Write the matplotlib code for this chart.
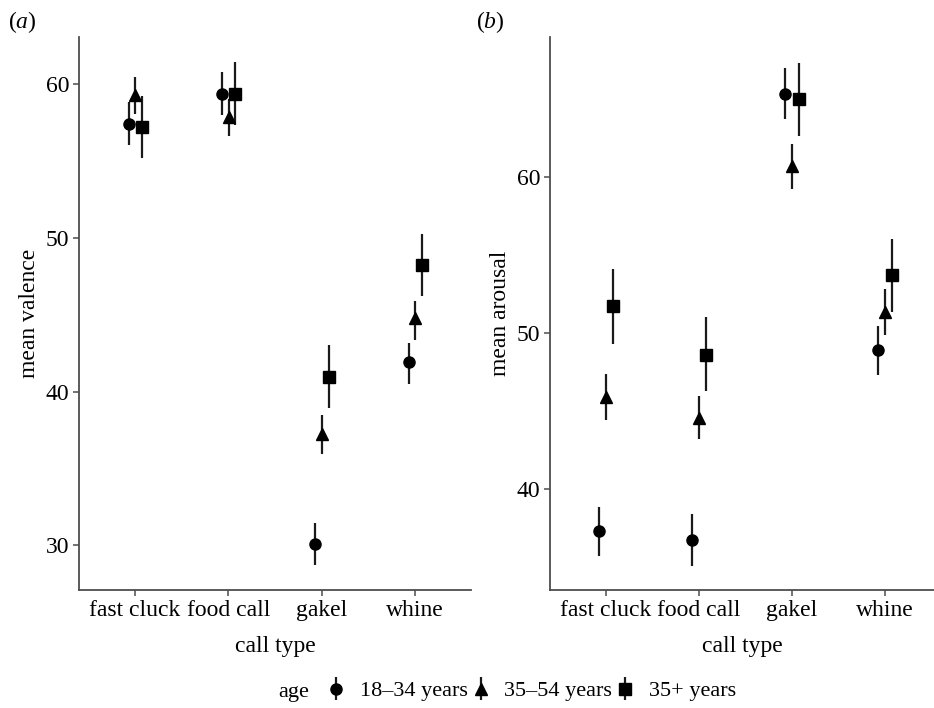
import matplotlib
matplotlib.use("Agg")
import matplotlib.pyplot as plt
import numpy as np

plt.rcParams['font.family'] = ['Liberation Serif', 'DejaVu Serif']
plt.rcParams['mathtext.fontset'] = 'custom'
plt.rcParams['mathtext.rm'] = 'Liberation Serif'
plt.rcParams['mathtext.it'] = 'Liberation Serif:italic'

calls = ["fast cluck", "food call", "gakel", "whine"]
ages = ["18\u201334 years", "35\u201354 years", "35+ years"]
markers = ["o", "^", "s"]
dodge = [-0.068, 0.004, 0.074]

# valence: mean, low, high per age group (rows) and call type (cols)
val_mean = [[57.4, 59.35, 30.1, 41.9],
            [59.3, 57.85, 37.25, 44.75],
            [57.2, 59.35, 40.95, 48.25]]
val_lo = [[56.05, 58.0, 28.75, 40.5],
          [58.05, 56.6, 35.95, 43.35],
          [55.2, 57.35, 38.9, 46.2]]
val_hi = [[58.8, 60.75, 31.45, 43.15],
          [60.45, 59.05, 38.45, 45.9],
          [59.2, 61.4, 43.0, 50.25]]

# arousal
aro_mean = [[37.3, 36.75, 65.3, 48.9],
            [45.9, 44.55, 60.7, 51.35],
            [51.7, 48.6, 64.95, 53.7]]
aro_lo = [[35.7, 35.1, 63.7, 47.3],
          [44.45, 43.2, 59.2, 49.85],
          [49.3, 46.3, 62.6, 51.35]]
aro_hi = [[38.85, 38.4, 66.95, 50.45],
          [47.35, 45.95, 62.1, 52.8],
          [54.1, 51.05, 67.3, 56.05]]

W, H = 934, 708
fig = plt.figure(figsize=(W / 100, H / 100), dpi=100)
ax1 = fig.add_axes([79 / W, 118 / H, (471 - 79) / W, (590 - 37) / H])
ax2 = fig.add_axes([550 / W, 118 / H, (934 - 550) / W, (590 - 37) / H])

grey = "#4d4d4d"
fs = 17


def panel(ax, means, lo, hi, ylim, yticks, ylabel):
    x = np.arange(1, len(calls) + 1)
    handles = []
    for i in range(len(ages)):
        m = np.array(means[i])
        err = [m - np.array(lo[i]), np.array(hi[i]) - m]
        h = ax.errorbar(x + dodge[i], m, yerr=err, fmt=markers[i], color="black",
                        ecolor="#1a1a1a", elinewidth=1.6, capsize=0,
                        markersize=8 if markers[i] != "^" else 8.5, label=ages[i])
        handles.append(h)
    ax.set_xlim(0.4, 4.6 if ax is ax1 else 4.53)
    ax.set_ylim(*ylim)
    ax.set_xticks(x)
    ax.set_xticklabels(calls)
    ax.set_yticks(yticks)
    ax.set_xlabel("call type", fontsize=fs, labelpad=11)
    ax.set_ylabel(ylabel, fontsize=fs, labelpad=4)
    for s in ["top", "right"]:
        ax.spines[s].set_visible(False)
    for s in ["left", "bottom"]:
        ax.spines[s].set_color(grey)
        ax.spines[s].set_linewidth(1.3)
    ax.tick_params(colors=grey, labelcolor="black", labelsize=fs, length=4, width=1.1, pad=3)
    return handles


handles = panel(ax1, val_mean, val_lo, val_hi, (27.1, 63.05), [30, 40, 50, 60], "mean valence")
panel(ax2, aro_mean, aro_lo, aro_hi, (33.55, 68.95), [40, 50, 60], "mean arousal")

fig.text(8 / W, 1 - 22 / H, r"($\mathit{a}$)", fontsize=fs, va="center")
fig.text(476 / W, 1 - 22 / H, r"($\mathit{b}$)", fontsize=fs, va="center")

lfs = 16
fig.text(278 / W, 1 - 692 / H, "age", fontsize=lfs, va="center")
fig.legend(handles, ages, loc="center", bbox_to_anchor=(531 / W, 1 - 691 / H),
           ncol=3, frameon=False, fontsize=lfs, handlelength=0.9, handletextpad=0.6,
           columnspacing=0.15, borderpad=0)

fig.savefig("out.png", dpi=100)
